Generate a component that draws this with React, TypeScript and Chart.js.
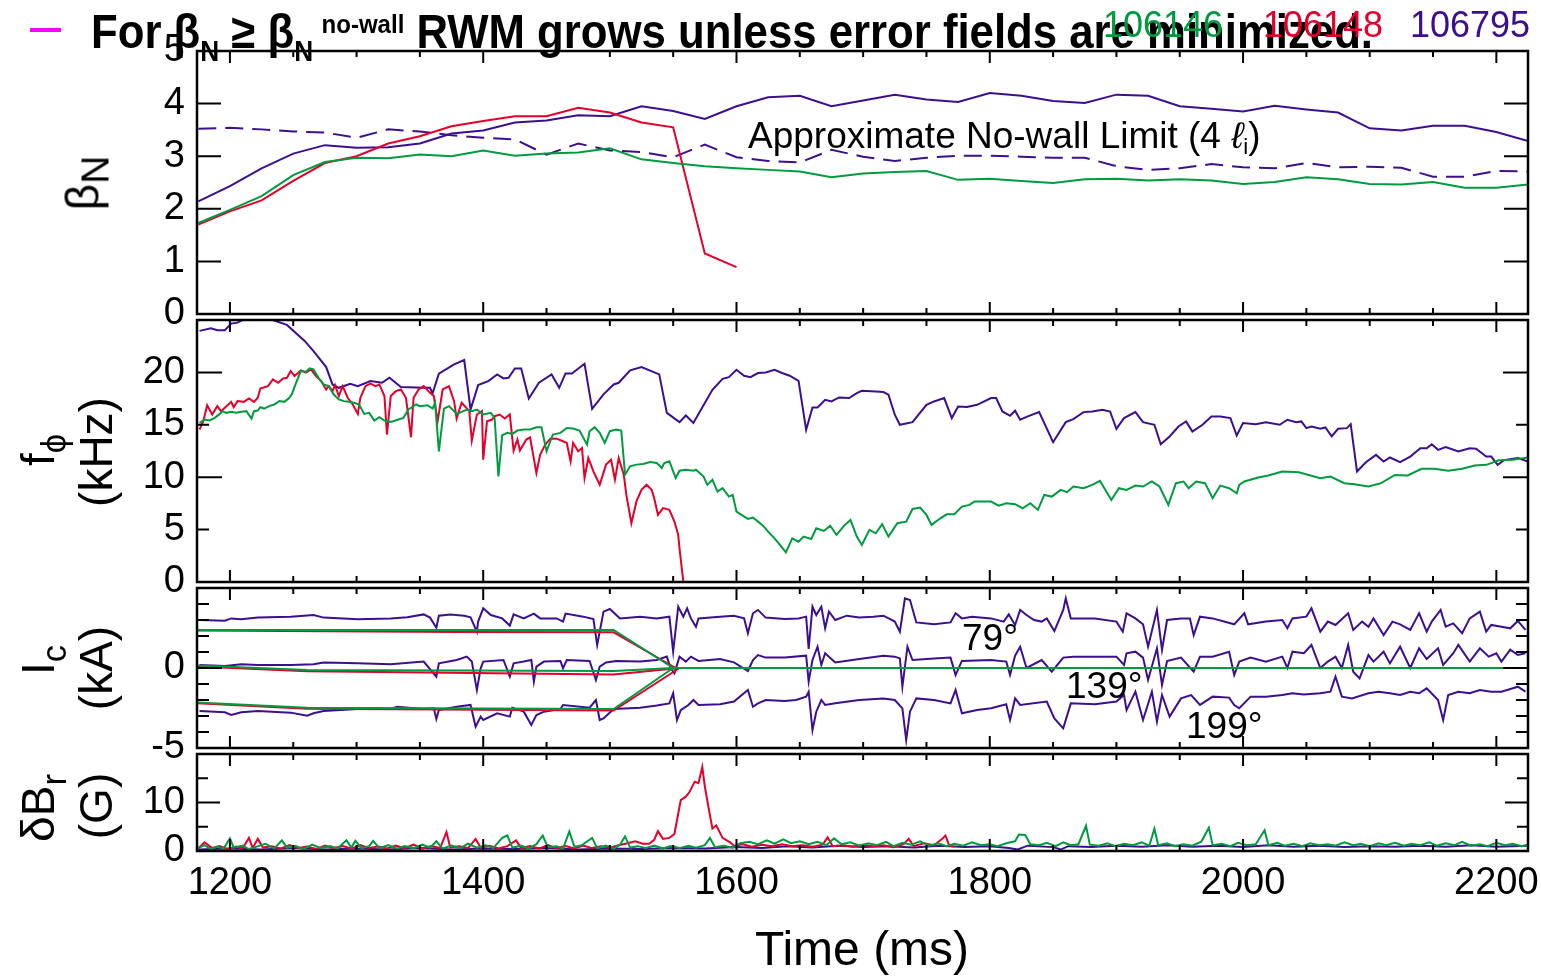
import React, { useEffect, useLayoutEffect, useRef } from 'react';
import { Chart, registerables } from 'chart.js';

Chart.register(...registerables);

type Pt = [number, number];

// ---------------- data ----------------
const X_MIN = 1174;
const X_MAX = 2225;
const xTickLabels = [1200, 1400, 1600, 1800, 2000, 2200];
const betaTicks = [0, 1, 2, 3, 4, 5];
const fphiTicks = [0, 5, 10, 15, 20];
const icTicks = [-5, 0];
const dbrTicks = [0, 10];

const betaTime = [1175, 1200, 1225, 1250, 1275, 1300, 1325, 1350, 1375, 1400, 1425, 1450, 1475, 1500, 1525, 1550, 1575, 1600,
  1625, 1650, 1675, 1700, 1725, 1750, 1775, 1800, 1825, 1850, 1875, 1900, 1925, 1950, 1975, 2000, 2025, 2050, 2075, 2100,
  2125, 2150, 2175, 2200, 2225];
const betaN_106795 = [2.14, 2.43, 2.77, 3.05, 3.21, 3.16, 3.17, 3.24, 3.43, 3.49, 3.64, 3.68, 3.78, 3.76, 3.95, 3.86, 3.71, 3.95,
  4.12, 4.15, 3.95, 4.06, 4.17, 4.08, 4.03, 4.20, 4.15, 4.05, 4.01, 4.17, 4.15, 3.95, 3.90, 3.85, 3.96, 3.89, 3.83, 3.53, 3.49,
  3.58, 3.58, 3.46, 3.29];
const betaNoWall_106795 = [3.52, 3.54, 3.51, 3.47, 3.45, 3.35, 3.51, 3.47, 3.40, 3.35, 3.32, 3.03, 3.24, 3.11, 3.08, 2.98, 3.22, 2.98,
  2.91, 2.88, 3.12, 2.99, 2.91, 2.97, 3.01, 3.01, 2.99, 2.97, 2.97, 2.81, 2.74, 2.77, 2.85, 2.79, 2.77, 2.87, 2.79, 2.80, 2.78,
  2.61, 2.61, 2.72, 2.71];
const betaN_106146 = [1.73, 1.98, 2.24, 2.64, 2.89, 2.97, 2.96, 3.03, 3.00, 3.11, 3.01, 3.05, 3.07, 3.15, 2.94, 2.87, 2.81, 2.77,
  2.74, 2.71, 2.60, 2.67, 2.70, 2.72, 2.55, 2.57, 2.53, 2.49, 2.56, 2.57, 2.54, 2.56, 2.54, 2.47, 2.51, 2.60, 2.56, 2.47, 2.46,
  2.51, 2.40, 2.40, 2.46];
const betaN_106148 = [1.70, 1.95, 2.16, 2.53, 2.87, 3.00, 3.24, 3.38, 3.57, 3.67, 3.76, 3.76, 3.92, 3.83, 3.64, 3.55, 1.15, 0.89];

const fphi_106795: Pt[] = [[1176,23.96],[1185,24.21],[1190,24.02],[1196,24.02],[1201,24.66],[1206,24.75],[1211,25.07],[1222,25.2],[1232,25.07],[1245,24.53],[1259,23.0],[1266,22.04],[1276,20.51],[1281,18.85],[1286,18.53],[1295,18.92],[1301,18.69],[1311,19.17],[1320,19.01],[1326,19.49],[1335,18.6],[1353,18.53],[1358,18.53],[1360,17.99],[1365,19.87],[1377,20.77],[1385,21.18],[1390,16.46],[1396,18.79],[1404,19.17],[1411,19.81],[1416,19.43],[1420,19.49],[1425,20.38],[1430,20.38],[1436,17.51],[1444,19.01],[1454,19.81],[1460,18.53],[1465,19.9],[1470,19.9],[1480,20.83],[1486,16.52],[1495,17.9],[1503,18.85],[1507,19.01],[1516,20.19],[1525,20.51],[1539,19.81],[1545,16.14],[1555,15.25],[1560,15.89],[1566,15.18],[1570,16.02],[1581,18.34],[1589,19.39],[1594,19.55],[1600,20.25],[1606,19.68],[1611,19.55],[1617,19.94],[1623,20.0],[1630,20.25],[1636,19.94],[1642,19.68],[1649,19.2],[1655,14.52],[1660,16.66],[1664,16.66],[1670,17.39],[1675,17.23],[1681,17.61],[1689,17.55],[1695,18.03],[1699,18.25],[1710,18.18],[1716,18.12],[1720,17.87],[1725,15.96],[1729,15.0],[1739,15.25],[1750,16.91],[1756,17.23],[1764,17.55],[1770,15.64],[1775,16.75],[1782,16.69],[1790,16.91],[1801,17.55],[1805,17.55],[1810,16.27],[1816,15.86],[1820,16.34],[1824,15.48],[1830,15.8],[1839,16.21],[1850,13.34],[1860,15.25],[1866,15.54],[1874,16.21],[1881,16.27],[1889,16.43],[1895,16.27],[1900,14.62],[1906,15.64],[1915,16.21],[1921,15.25],[1930,15.0],[1935,13.15],[1942,13.89],[1949,14.84],[1955,15.32],[1960,14.36],[1968,15.0],[1975,15.8],[1982,15.8],[1990,15.64],[1995,13.98],[2000,15.16],[2010,15.06],[2018,15.25],[2029,15.0],[2035,15.48],[2042,15.25],[2046,15.32],[2050,14.68],[2054,14.84],[2061,14.62],[2065,14.75],[2070,13.89],[2075,14.62],[2082,14.68],[2085,15.06],[2090,10.54],[2097,11.43],[2105,12.13],[2111,11.5],[2116,11.88],[2124,11.43],[2132,11.97],[2140,12.77],[2145,12.77],[2149,13.15],[2154,12.61],[2160,12.87],[2170,12.45],[2179,12.77],[2184,12.71],[2192,11.97],[2196,11.97],[2201,11.18],[2206,11.62],[2217,11.82],[2225,11.5]];

const fphi_106148: Pt[] = [[1176,14.55],[1179,15.34],[1182,16.87],[1186,15.98],[1190,16.78],[1193,16.3],[1196,16.62],[1201,17.19],[1203,16.68],[1206,17.26],[1211,17.19],[1215,17.51],[1219,17.19],[1222,17.58],[1224,18.47],[1230,18.69],[1234,19.33],[1238,19.01],[1242,19.43],[1245,19.49],[1248,20.13],[1251,19.65],[1256,20.19],[1260,19.97],[1264,20.29],[1268,19.65],[1272,19.17],[1276,18.37],[1278,18.69],[1281,18.21],[1283,18.79],[1286,17.74],[1289,18.69],[1293,17.58],[1297,16.94],[1301,16.04],[1303,17.58],[1307,18.69],[1311,18.92],[1315,18.69],[1318,18.85],[1322,17.74],[1324,14.07],[1327,17.74],[1331,18.21],[1335,18.37],[1339,17.58],[1343,13.81],[1345,17.58],[1349,18.37],[1353,18.69],[1358,18.05],[1361,17.74],[1364,15.34],[1368,18.37],[1373,18.69],[1377,17.26],[1379,15.6],[1383,17.1],[1389,16.3],[1391,13.49],[1395,15.98],[1399,16.3],[1400,11.67],[1403,15.34],[1407,15.5],[1409,15.82],[1413,15.98],[1417,15.6],[1421,15.98],[1424,12.54],[1427,13.59],[1429,12.54],[1434,13.59],[1437,13.81],[1442,10.4],[1445,12.15],[1449,13.11],[1453,13.68],[1458,13.68],[1463,13.43],[1466,13.27],[1469,11.52],[1471,13.27],[1475,12.47],[1478,12.79],[1480,9.92],[1483,11.83],[1487,10.56],[1492,9.28],[1497,11.2],[1501,11.67],[1504,9.76],[1507,11.83],[1511,10.24],[1513,8.33],[1517,5.61],[1521,7.69],[1525,8.8],[1529,9.28],[1533,8.8],[1535,8.01],[1538,6.41],[1542,7.05],[1547,6.89],[1551,5.77],[1554,4.5],[1555,3.22],[1558,0.03]];

const fphi_106146: Pt[] = [[1176,15.18],[1180,15.5],[1184,15.41],[1188,15.66],[1192,16.04],[1194,16.3],[1197,16.14],[1201,16.24],[1205,16.14],[1209,16.24],[1213,16.3],[1217,15.6],[1219,16.3],[1222,16.36],[1224,16.68],[1227,16.55],[1231,16.78],[1235,16.94],[1239,17.26],[1243,17.19],[1247,17.58],[1249,17.96],[1252,18.92],[1256,20.13],[1260,20.06],[1263,20.38],[1266,20.29],[1270,19.49],[1274,18.85],[1278,18.69],[1282,17.89],[1286,17.42],[1290,17.26],[1294,17.19],[1298,17.1],[1302,16.94],[1306,16.04],[1310,16.14],[1314,15.41],[1318,15.73],[1322,15.41],[1326,15.28],[1329,15.34],[1333,15.5],[1337,15.66],[1341,16.46],[1347,16.94],[1350,16.78],[1356,16.87],[1360,16.55],[1362,17.1],[1365,12.47],[1369,16.55],[1373,16.78],[1377,16.3],[1379,16.04],[1383,16.24],[1387,16.46],[1391,16.3],[1395,16.46],[1400,15.98],[1406,16.14],[1409,15.66],[1412,10.08],[1415,14.0],[1419,14.23],[1423,14.13],[1427,14.45],[1432,14.55],[1437,14.55],[1442,14.77],[1446,14.77],[1450,12.47],[1453,13.43],[1455,14.07],[1461,14.23],[1466,14.7],[1471,14.64],[1476,14.45],[1482,13.11],[1484,14.39],[1488,14.77],[1492,14.23],[1496,13.27],[1500,14.39],[1505,14.55],[1509,14.45],[1512,10.24],[1516,11.04],[1521,11.2],[1526,11.26],[1532,11.45],[1537,11.36],[1541,10.88],[1543,11.36],[1547,11.52],[1552,9.92],[1555,10.62],[1560,10.72],[1566,10.62],[1568,10.72],[1574,10.06],[1577,9.27],[1581,9.75],[1585,8.63],[1589,8.95],[1594,8.15],[1597,8.31],[1600,6.72],[1604,6.4],[1609,6.02],[1613,6.15],[1617,5.76],[1621,5.38],[1625,4.81],[1630,4.17],[1634,3.6],[1639,2.83],[1644,4.17],[1649,3.85],[1653,4.33],[1659,4.11],[1663,5.13],[1669,4.87],[1674,5.38],[1679,4.49],[1685,5.38],[1690,5.92],[1695,4.33],[1699,3.54],[1705,4.97],[1710,4.65],[1715,5.51],[1720,4.33],[1727,5.61],[1734,5.76],[1739,6.97],[1745,7.1],[1750,6.4],[1754,5.45],[1761,6.08],[1766,6.46],[1772,6.46],[1778,7.2],[1784,7.36],[1788,7.68],[1794,7.68],[1801,7.68],[1807,7.29],[1813,7.52],[1820,7.42],[1826,7.04],[1832,7.52],[1838,6.88],[1843,8.31],[1849,8.15],[1856,8.79],[1861,8.57],[1866,9.11],[1874,8.95],[1881,9.27],[1887,9.65],[1896,7.83],[1902,8.95],[1908,8.79],[1915,9.2],[1921,9.11],[1928,9.59],[1934,9.11],[1941,7.36],[1947,9.43],[1953,9.59],[1957,8.95],[1963,9.59],[1970,9.43],[1976,7.99],[1982,9.2],[1989,8.95],[1995,8.47],[1997,9.27],[2001,9.59],[2012,9.97],[2020,10.16],[2031,10.54],[2044,10.48],[2061,9.9],[2069,10.06],[2080,9.43],[2088,9.33],[2099,9.11],[2109,9.43],[2120,10.22],[2130,10.16],[2141,10.8],[2151,10.8],[2162,10.61],[2173,10.8],[2183,11.11],[2192,11.18],[2202,11.62],[2213,11.66],[2225,11.88]];

const ic79_106795: Pt[] = [[1176,3.0],[1196,2.96],[1201,3.1],[1209,3.04],[1222,3.15],[1248,3.21],[1266,3.31],[1274,3.15],[1301,3.04],[1327,3.1],[1340,3.17],[1353,3.35],[1358,3.15],[1363,2.52],[1365,3.27],[1374,3.35],[1385,3.27],[1390,3.17],[1395,2.27],[1396,2.9],[1400,3.73],[1406,3.31],[1415,3.1],[1421,2.65],[1424,3.35],[1432,3.1],[1440,3.4],[1445,3.1],[1458,3.1],[1463,2.9],[1465,3.4],[1479,3.21],[1487,3.06],[1490,1.44],[1495,3.52],[1500,3.69],[1508,3.1],[1524,3.21],[1537,3.1],[1547,3.21],[1550,1.02],[1554,3.83],[1558,3.21],[1561,3.73],[1564,3.1],[1568,2.58],[1570,3.1],[1587,3.21],[1598,3.27],[1606,3.1],[1609,2.17],[1613,3.42],[1617,3.63],[1623,3.15],[1638,3.06],[1649,3.1],[1655,3.21],[1657,1.19],[1660,3.83],[1663,3.31],[1667,3.83],[1670,2.48],[1673,3.52],[1678,3.0],[1687,3.27],[1697,3.15],[1708,3.21],[1716,3.27],[1725,2.9],[1729,2.27],[1733,4.35],[1737,4.25],[1742,2.85],[1756,2.73],[1769,2.85],[1773,3.42],[1778,3.1],[1786,3.21],[1801,3.1],[1811,2.9],[1815,3.35],[1820,2.69],[1824,3.63],[1829,3.31],[1835,3.0],[1841,2.9],[1845,3.1],[1851,2.31],[1858,3.63],[1860,4.35],[1864,3.1],[1883,3.1],[1900,2.9],[1905,2.27],[1908,3.42],[1915,3.1],[1921,2.73],[1925,1.33],[1932,3.63],[1936,1.13],[1940,3.0],[1951,3.1],[1958,3.1],[1961,2.06],[1966,3.21],[1976,3.1],[1993,2.73],[2001,3.42],[2004,2.73],[2018,2.9],[2031,3.0],[2035,2.48],[2039,3.1],[2050,3.21],[2054,3.73],[2061,2.27],[2067,2.9],[2073,2.69],[2083,3.42],[2087,2.38],[2094,2.9],[2099,2.58],[2103,3.1],[2111,2.06],[2118,2.9],[2124,2.73],[2132,2.38],[2139,3.42],[2145,2.27],[2149,2.9],[2156,3.63],[2160,2.58],[2166,2.79],[2173,2.17],[2179,3.1],[2187,3.52],[2192,2.27],[2196,2.69],[2204,2.58],[2211,2.48],[2217,2.94],[2223,2.38]];

const ic139_106795: Pt[] = [[1176,0.19],[1196,0.13],[1209,0.23],[1222,0.19],[1248,0.19],[1266,0.23],[1274,0.35],[1301,0.29],[1327,0.23],[1353,0.4],[1363,-0.54],[1365,0.29],[1379,0.5],[1387,0.71],[1391,0.4],[1395,-1.38],[1398,-0.02],[1400,0.4],[1416,0.5],[1421,-0.54],[1424,0.29],[1432,0.4],[1438,0.5],[1440,-0.85],[1442,0.09],[1448,0.4],[1461,0.44],[1463,-0.02],[1466,0.5],[1484,0.44],[1489,-0.75],[1492,0.09],[1497,0.35],[1505,0.44],[1524,0.4],[1537,0.5],[1545,0.71],[1548,-0.02],[1551,-0.33],[1555,0.71],[1560,0.4],[1564,0.71],[1570,0.44],[1587,0.56],[1598,0.35],[1609,-0.19],[1613,0.5],[1617,0.81],[1623,0.65],[1638,0.65],[1655,0.77],[1657,-0.85],[1660,0.5],[1664,1.33],[1667,0.19],[1670,0.92],[1673,0.71],[1678,0.35],[1697,0.56],[1716,0.77],[1725,0.71],[1729,0.6],[1731,-1.17],[1735,1.33],[1739,0.5],[1756,0.6],[1769,0.65],[1773,-0.44],[1778,0.44],[1801,0.5],[1813,0.4],[1816,-0.44],[1820,0.77],[1824,1.33],[1829,0.0],[1841,0.5],[1849,-0.23],[1858,0.65],[1866,0.71],[1883,0.71],[1900,0.71],[1906,0.19],[1908,0.92],[1915,1.02],[1921,0.65],[1925,-0.75],[1932,1.23],[1936,-1.06],[1940,0.44],[1951,0.65],[1961,-0.23],[1966,0.71],[1976,0.71],[1989,1.02],[1993,-0.44],[1997,0.4],[2006,0.65],[2018,0.4],[2031,0.71],[2035,0.0],[2039,1.02],[2048,0.92],[2054,1.44],[2061,0.0],[2067,0.4],[2073,0.71],[2078,0.0],[2083,1.44],[2087,-0.23],[2092,-0.65],[2099,0.81],[2103,0.4],[2111,1.02],[2116,0.29],[2124,1.33],[2132,0.0],[2139,1.23],[2145,0.56],[2154,1.23],[2158,0.19],[2166,0.92],[2170,1.44],[2179,0.4],[2187,1.23],[2194,0.71],[2200,0.92],[2204,0.4],[2211,1.15],[2217,0.81],[2223,0.92]];

const ic199_106795: Pt[] = [[1176,-2.69],[1196,-2.77],[1201,-2.94],[1209,-2.77],[1222,-2.69],[1248,-2.79],[1261,-2.98],[1266,-2.83],[1274,-2.69],[1301,-2.56],[1327,-2.56],[1332,-2.42],[1353,-2.56],[1361,-2.52],[1363,-3.19],[1365,-2.63],[1379,-2.42],[1390,-2.31],[1394,-3.67],[1398,-3.04],[1400,-3.25],[1411,-2.83],[1421,-3.04],[1423,-2.48],[1432,-2.73],[1438,-3.56],[1442,-2.94],[1448,-2.73],[1461,-2.56],[1463,-2.31],[1484,-2.48],[1489,-2.0],[1492,-3.25],[1495,-3.15],[1503,-2.56],[1524,-2.48],[1537,-2.35],[1547,-2.21],[1550,-1.58],[1553,-3.25],[1556,-2.63],[1562,-2.31],[1566,-2.0],[1570,-2.31],[1587,-2.27],[1598,-2.1],[1609,-1.38],[1613,-2.42],[1617,-2.21],[1623,-2.0],[1638,-2.06],[1647,-2.0],[1655,-1.79],[1657,-1.48],[1660,-3.88],[1663,-2.73],[1667,-2.0],[1670,-2.31],[1678,-2.21],[1697,-2.0],[1716,-1.9],[1725,-2.0],[1731,-2.52],[1734,-4.5],[1737,-2.73],[1742,-1.9],[1756,-2.0],[1769,-2.21],[1773,-1.38],[1778,-2.83],[1790,-2.63],[1801,-2.52],[1813,-2.27],[1816,-3.25],[1820,-1.9],[1824,-2.31],[1845,-2.1],[1851,-3.15],[1858,-3.77],[1864,-2.21],[1883,-2.27],[1900,-2.1],[1906,-1.69],[1908,-2.63],[1915,-1.48],[1921,-3.25],[1928,-1.48],[1932,-3.35],[1936,-1.69],[1942,-3.04],[1951,-1.9],[1959,-1.69],[1966,-2.31],[1976,-1.79],[1989,-1.85],[1993,-2.31],[1997,-2.52],[2006,-1.79],[2018,-1.79],[2031,-1.69],[2039,-1.58],[2048,-1.65],[2061,-1.58],[2069,-1.48],[2073,-0.54],[2078,-1.79],[2086,-1.9],[2099,-1.58],[2107,-1.48],[2116,-1.58],[2124,-1.69],[2132,-1.48],[2139,-1.58],[2145,-1.27],[2154,-2.0],[2158,-3.25],[2162,-1.69],[2170,-1.48],[2179,-1.58],[2187,-1.38],[2196,-1.48],[2204,-1.48],[2213,-1.27],[2217,-1.17],[2223,-1.48]];

const icTop_106146: Pt[] = [[1174,2.38],[1503,2.38],[1550,0.0]];
const icMid_106146: Pt[] = [[1174,0.15],[1261,-0.12],[1503,-0.19],[1550,0.0],[2225,0.0]];
const icBot_106146: Pt[] = [[1174,-2.15],[1261,-2.48],[1503,-2.56],[1550,0.0]];
const icTop_106148: Pt[] = [[1174,2.35],[1380,2.25],[1503,2.23],[1552,0.0]];
const icMid_106148: Pt[] = [[1174,0.1],[1261,-0.2],[1503,-0.4],[1555,0.0],[1600,0.0]];
const icBot_106148: Pt[] = [[1174,-2.2],[1261,-2.55],[1503,-2.66],[1555,0.0]];

const dbr_106146: Pt[] = [[1175,0.6],[1180,1.2],[1185,0.4],[1190,0.9],[1195,0.5],[1200,2.6],[1203,0.7],[1210,1.1],[1215,0.4],[1220,0.8],[1228,1.5],[1235,0.5],[1241,2.2],[1245,0.7],[1252,1.0],[1258,0.4],[1265,1.3],[1272,0.6],[1279,1.0],[1285,0.5],[1292,2.2],[1296,0.7],[1299,2.1],[1304,0.6],[1310,1.0],[1313,2.1],[1318,0.6],[1325,1.2],[1332,0.5],[1338,1.0],[1345,0.6],[1352,1.3],[1358,0.7],[1363,2.0],[1368,0.5],[1375,1.1],[1382,0.6],[1388,1.5],[1395,0.7],[1402,1.2],[1408,0.6],[1415,2.7],[1419,3.2],[1423,0.7],[1430,1.1],[1436,0.5],[1442,1.4],[1447,3.2],[1451,0.8],[1458,1.0],[1463,0.5],[1468,4.0],[1472,0.9],[1478,1.2],[1486,2.7],[1490,0.6],[1497,1.1],[1503,0.5],[1508,1.3],[1512,3.0],[1516,0.7],[1522,1.0],[1528,0.6],[1535,1.1],[1542,0.5],[1548,1.0],[1555,0.6],[1562,1.1],[1568,0.7],[1575,1.2],[1579,2.7],[1583,0.8],[1590,1.1],[1597,0.7],[1603,1.6],[1610,1.9],[1617,1.4],[1624,2.2],[1630,1.5],[1637,2.4],[1643,1.6],[1650,2.0],[1657,1.4],[1664,1.9],[1671,1.2],[1677,2.6],[1683,1.4],[1690,1.8],[1697,1.1],[1704,1.6],[1711,1.2],[1718,1.9],[1724,1.0],[1731,1.7],[1738,1.3],[1745,2.0],[1752,1.1],[1759,1.6],[1766,1.0],[1772,1.5],[1779,1.1],[1786,1.8],[1793,1.2],[1800,1.4],[1806,1.0],[1813,1.6],[1820,2.0],[1823,3.4],[1828,3.3],[1832,1.4],[1839,1.2],[1845,1.7],[1852,1.0],[1858,1.8],[1864,1.2],[1870,1.4],[1876,5.2],[1879,1.3],[1886,1.1],[1893,1.6],[1899,1.0],[1906,1.5],[1913,1.2],[1920,1.8],[1926,1.1],[1930,4.6],[1933,1.2],[1940,1.6],[1946,1.0],[1953,1.4],[1960,1.1],[1967,1.9],[1973,4.8],[1976,1.2],[1983,1.5],[1990,1.0],[1996,1.7],[2003,1.2],[2010,1.4],[2017,4.3],[2020,1.2],[2027,1.7],[2033,1.1],[2040,1.5],[2047,1.0],[2053,1.6],[2060,1.2],[2067,1.4],[2073,1.1],[2080,1.8],[2087,1.2],[2093,1.5],[2100,1.0],[2107,1.6],[2113,1.2],[2120,1.7],[2127,1.1],[2133,1.5],[2140,1.2],[2147,1.8],[2153,1.1],[2160,1.6],[2167,1.2],[2173,1.9],[2180,1.1],[2187,1.4],[2193,1.0],[2200,1.7],[2207,1.2],[2213,1.5],[2220,1.0],[2225,1.3]];

const dbr_106148: Pt[] = [[1175,0.5],[1180,1.8],[1186,0.6],[1192,1.0],[1198,0.4],[1205,0.9],[1210,0.5],[1215,2.7],[1218,0.6],[1222,2.5],[1226,0.7],[1233,1.0],[1240,0.5],[1247,1.2],[1254,0.6],[1261,0.9],[1268,0.4],[1275,1.1],[1282,0.6],[1289,1.0],[1296,0.5],[1303,1.2],[1310,0.6],[1317,0.9],[1324,0.5],[1331,1.1],[1338,0.6],[1345,1.3],[1352,0.5],[1359,1.0],[1366,0.6],[1371,3.9],[1374,0.7],[1381,1.0],[1388,0.6],[1394,2.5],[1398,0.7],[1405,1.1],[1412,0.5],[1419,1.0],[1426,2.2],[1430,0.6],[1437,1.0],[1444,0.5],[1451,1.2],[1458,0.6],[1465,1.0],[1472,0.5],[1479,1.1],[1486,0.6],[1493,1.0],[1500,0.7],[1507,1.2],[1514,1.6],[1520,2.0],[1526,1.5],[1531,1.5],[1535,2.3],[1538,4.1],[1542,2.5],[1547,2.7],[1551,3.5],[1556,10.5],[1560,11.2],[1563,12.2],[1567,14.3],[1570,14.0],[1573,17.3],[1575,13.3],[1579,7.4],[1581,4.6],[1584,5.3],[1589,2.7],[1595,1.8],[1598,1.1],[1605,1.4],[1612,0.9],[1620,1.3],[1628,1.0],[1636,1.4],[1644,1.0],[1652,1.2],[1660,0.9],[1668,1.3],[1672,2.8],[1676,1.0],[1684,1.2],[1692,0.9],[1700,1.3],[1708,1.0],[1716,1.2],[1724,0.8],[1732,1.4],[1736,2.5],[1740,1.0],[1748,1.6],[1756,1.2],[1762,2.4],[1765,3.2],[1768,1.1],[1772,0.9]];

const dbr_106795: Pt[] = [[1175,0.3],[1200,0.5],[1225,0.3],[1250,0.6],[1275,0.3],[1300,0.5],[1325,0.3],[1350,0.6],[1375,0.3],[1400,0.5],[1425,0.4],[1450,0.6],[1475,0.3],[1500,0.5],[1525,0.4],[1550,0.6],[1575,0.5],[1600,0.8],[1620,0.6],[1640,1.0],[1660,0.7],[1680,1.1],[1700,0.8],[1720,1.0],[1740,0.7],[1760,1.1],[1780,0.8],[1800,1.0],[1815,0.6],[1822,0.3],[1830,1.1],[1850,0.8],[1856,0.3],[1862,1.0],[1880,0.8],[1900,1.1],[1920,0.9],[1940,1.2],[1960,0.9],[1980,1.1],[2000,0.8],[2020,1.2],[2040,0.9],[2060,1.1],[2080,0.8],[2100,1.0],[2120,0.9],[2140,1.1],[2160,0.9],[2180,1.2],[2200,0.9],[2225,1.1]];

// ---------------- styling ----------------
const GREEN = '#009b3e';
const RED = '#e4002b';
const PURPLE = '#3d0f8e';
const FONT = '"Liberation Sans", Arial, Helvetica, sans-serif';
const NARROW = '"Liberation Sans Narrow", "Arial Narrow", "Liberation Sans", Arial, sans-serif';
const CANVAS_W = 1600;
const PAD = 40;
const XAXIS_H = 75;

const pairs = (p: Pt[]) => p.map(([x, y]) => ({ x, y }));
const zipT = (t: number[], v: number[]) => v.map((y, i) => ({ x: t[i], y }));
const line = (data: any[], color: string, dash: number[] = []) => ({
  data, borderColor: color, borderWidth: 2, pointRadius: 0, tension: 0, fill: false, borderDash: dash,
});

interface PanelCfg {
  top: number; bottom: number; yMin: number; yMax: number; yLabels: number[];
  yMinor: number; yMajor: number; majorLen: number; minorLen: number; last?: boolean; datasets: any[];
}

const PANELS: PanelCfg[] = [
  {
    top: 51, bottom: 314, yMin: 0, yMax: 5, yLabels: betaTicks, yMinor: 1, yMajor: 1, majorLen: 24, minorLen: 24,
    datasets: [
      line(zipT(betaTime, betaN_106146), GREEN),
      line(zipT(betaTime, betaN_106148), RED),
      line(zipT(betaTime, betaN_106795), PURPLE),
      line(zipT(betaTime, betaNoWall_106795), PURPLE, [18, 9]),
    ],
  },
  {
    top: 320, bottom: 582, yMin: 0, yMax: 25, yLabels: fphiTicks, yMinor: 5, yMajor: 10, majorLen: 25, minorLen: 12,
    datasets: [line(pairs(fphi_106146), GREEN), line(pairs(fphi_106148), RED), line(pairs(fphi_106795), PURPLE)],
  },
  {
    top: 588, bottom: 748, yMin: -5, yMax: 5, yLabels: icTicks, yMinor: 1, yMajor: 5, majorLen: 25, minorLen: 12,
    datasets: [
      line(pairs(icTop_106146), GREEN), line(pairs(icMid_106146), GREEN), line(pairs(icBot_106146), GREEN),
      line(pairs(icTop_106148), RED), line(pairs(icMid_106148), RED), line(pairs(icBot_106148), RED),
      line(pairs(ic79_106795), PURPLE), line(pairs(ic139_106795), PURPLE), line(pairs(ic199_106795), PURPLE),
    ],
  },
  {
    top: 754, bottom: 851, yMin: 0, yMax: 20, yLabels: dbrTicks, yMinor: 5, yMajor: 10, majorLen: 23, minorLen: 11, last: true,
    datasets: [line(pairs(dbr_106146), GREEN), line(pairs(dbr_106148), RED), line(pairs(dbr_106795), PURPLE)],
  },
];

const framePlugin = {
  id: 'frame',
  afterDraw(chart: any, _args: any, o: any) {
    const { ctx, chartArea: a, scales } = chart;
    const xs = scales.x;
    const ys = scales.y;
    ctx.save();
    ctx.strokeStyle = '#000';
    ctx.lineWidth = 2;
    ctx.beginPath();
    for (let v = Math.ceil(X_MIN / 50) * 50; v <= X_MAX; v += 50) {
      const px = xs.getPixelForValue(v);
      const len = v % 200 === 0 ? 12 : 6;
      ctx.moveTo(px, a.top); ctx.lineTo(px, a.top + len);
      ctx.moveTo(px, a.bottom); ctx.lineTo(px, a.bottom - len);
    }
    for (let k = 0; ; k++) {
      const v = o.yMin + k * o.yMinor;
      if (v > o.yMax + 1e-9) break;
      const r = v / o.yMajor;
      const len = Math.abs(r - Math.round(r)) < 1e-6 ? o.majorLen : o.minorLen;
      const py = ys.getPixelForValue(v);
      ctx.moveTo(a.left, py); ctx.lineTo(a.left + len, py);
      ctx.moveTo(a.right, py); ctx.lineTo(a.right - len, py);
    }
    ctx.stroke();
    ctx.lineWidth = 2.5;
    ctx.strokeRect(a.left, a.top, a.right - a.left, a.bottom - a.top);
    ctx.restore();
  },
};

function PanelChart({ cfg }: { cfg: PanelCfg }) {
  const ref = useRef<HTMLCanvasElement>(null);
  const canvasTop = cfg.top - PAD;
  const canvasH = cfg.bottom - cfg.top + PAD + (cfg.last ? XAXIS_H : PAD);
  useEffect(() => {
    const tickFont = { family: FONT, size: 38 };
    const chart = new Chart(ref.current as HTMLCanvasElement, {
      type: 'line',
      data: { datasets: cfg.datasets },
      plugins: [framePlugin as any],
      options: {
        responsive: false,
        animation: false,
        devicePixelRatio: 1,
        events: [],
        layout: { padding: { top: PAD, bottom: cfg.last ? 0 : PAD, left: 0, right: CANVAS_W - 1528 } },
        plugins: {
          legend: { display: false },
          tooltip: { enabled: false },
          title: { display: false },
          frame: { yMin: cfg.yMin, yMax: cfg.yMax, yMinor: cfg.yMinor, yMajor: cfg.yMajor, majorLen: cfg.majorLen, minorLen: cfg.minorLen },
        } as any,
        scales: {
          x: {
            type: 'linear', min: X_MIN, max: X_MAX, display: !!cfg.last,
            grid: { display: false, drawTicks: false }, border: { display: false },
            ticks: { font: tickFont, color: '#000', padding: 10, maxRotation: 0, autoSkip: false, callback: (v: any) => String(v) },
            afterBuildTicks: (s: any) => { s.ticks = xTickLabels.map((value) => ({ value })); },
            afterFit: (s: any) => { s.height = cfg.last ? XAXIS_H : 0; },
          },
          y: {
            type: 'linear', min: cfg.yMin, max: cfg.yMax,
            grid: { display: false, drawTicks: false }, border: { display: false },
            ticks: { font: tickFont, color: '#000', padding: 12, autoSkip: false, callback: (v: any) => String(v) },
            afterBuildTicks: (s: any) => { s.ticks = cfg.yLabels.map((value) => ({ value })); },
            afterFit: (s: any) => { s.width = 197; },
          },
        } as any,
      },
    });
    return () => chart.destroy();
  }, []);
  return (
    <canvas ref={ref} width={CANVAS_W} height={canvasH}
      style={{ position: 'absolute', left: 0, top: canvasTop, width: CANVAS_W, height: canvasH }} />
  );
}

function Txt({ x, base, size, color = '#000', children, style }: any) {
  return (
    <div style={{ position: 'absolute', left: x, top: base - 0.8465 * size, fontSize: size, lineHeight: `${size}px`,
      fontFamily: FONT, color, whiteSpace: 'nowrap', ...style }}>{children}</div>
  );
}

function RotTxt({ cx, cy, size = 46, children }: any) {
  return (
    <div style={{ position: 'absolute', left: cx, top: cy, fontSize: size, lineHeight: `${size}px`, fontFamily: FONT,
      whiteSpace: 'nowrap', color: '#000', transform: 'translate(-50%,-50%) rotate(-90deg)' }}>{children}</div>
  );
}

const subS = (scale: number, shift: number): React.CSSProperties => ({ fontSize: `${scale}em`, position: 'relative', top: `${shift}em` });

export default function App() {
  const titleRef = useRef<HTMLDivElement>(null);
  useLayoutEffect(() => {
    const fit = () => {
      const el = titleRef.current;
      if (!el) return;
      el.style.transform = 'none';
      const w = el.getBoundingClientRect().width;
      if (w > 0) el.style.transform = `scaleX(${1282 / w})`;
    };
    fit();
    if ((document as any).fonts?.ready) (document as any).fonts.ready.then(fit);
  }, []);

  return (
    <div style={{ position: 'absolute', left: 0, top: 0, width: 1541, height: 976, overflow: 'hidden', background: '#fff' }}>
      {PANELS.map((p, i) => <PanelChart key={i} cfg={p} />)}

      <div style={{ position: 'absolute', left: 30, top: 28, width: 31, height: 4, background: '#ff00ff' }} />
      <div ref={titleRef} style={{ position: 'absolute', left: 91, top: 49 - 0.8465 * 48, fontSize: 48, lineHeight: '48px',
        fontWeight: 'bold', fontFamily: NARROW, whiteSpace: 'nowrap', transformOrigin: '0 0', color: '#000' }}>
        For β<span style={subS(0.6, 0.45)}>N</span> ≥ β<span style={subS(0.6, 0.45)}>N</span>
        <span style={{ ...subS(0.55, -0.6), marginLeft: '0.35em' }}>no-wall</span> RWM grows unless error fields are minimized.
      </div>

      <Txt x={1103} base={37} size={36} color={GREEN}>106146</Txt>
      <Txt x={1263} base={37} size={36} color={RED}>106148</Txt>
      <Txt x={1410} base={37} size={36} color={PURPLE}>106795</Txt>

      <Txt x={748} base={148} size={37}>
        Approximate No-wall Limit (4 <i>ℓ</i><span style={subS(0.6, 0.3)}>i</span>)
      </Txt>

      <Txt x={962} base={650} size={37}>79°</Txt>
      <Txt x={1066} base={698} size={37}>139°</Txt>
      <Txt x={1186} base={738} size={37}>199°</Txt>

      <Txt x={862} base={966} size={48} style={{ transform: 'translateX(-50%)' }}>Time (ms)</Txt>

      <RotTxt cx={84} cy={183}>β<span style={subS(0.85, 0.25)}>N</span></RotTxt>
      <RotTxt cx={40} cy={450}>f<span style={subS(0.75, 0.35)}>ϕ</span></RotTxt>
      <RotTxt cx={96} cy={452}>(kHz)</RotTxt>
      <RotTxt cx={40} cy={660}>I<span style={subS(0.75, 0.35)}>c</span></RotTxt>
      <RotTxt cx={96} cy={668}>(kA)</RotTxt>
      <RotTxt cx={40} cy={808}>δB<span style={subS(0.75, 0.35)}>r</span></RotTxt>
      <RotTxt cx={96} cy={806}>(G)</RotTxt>
    </div>
  );
}
